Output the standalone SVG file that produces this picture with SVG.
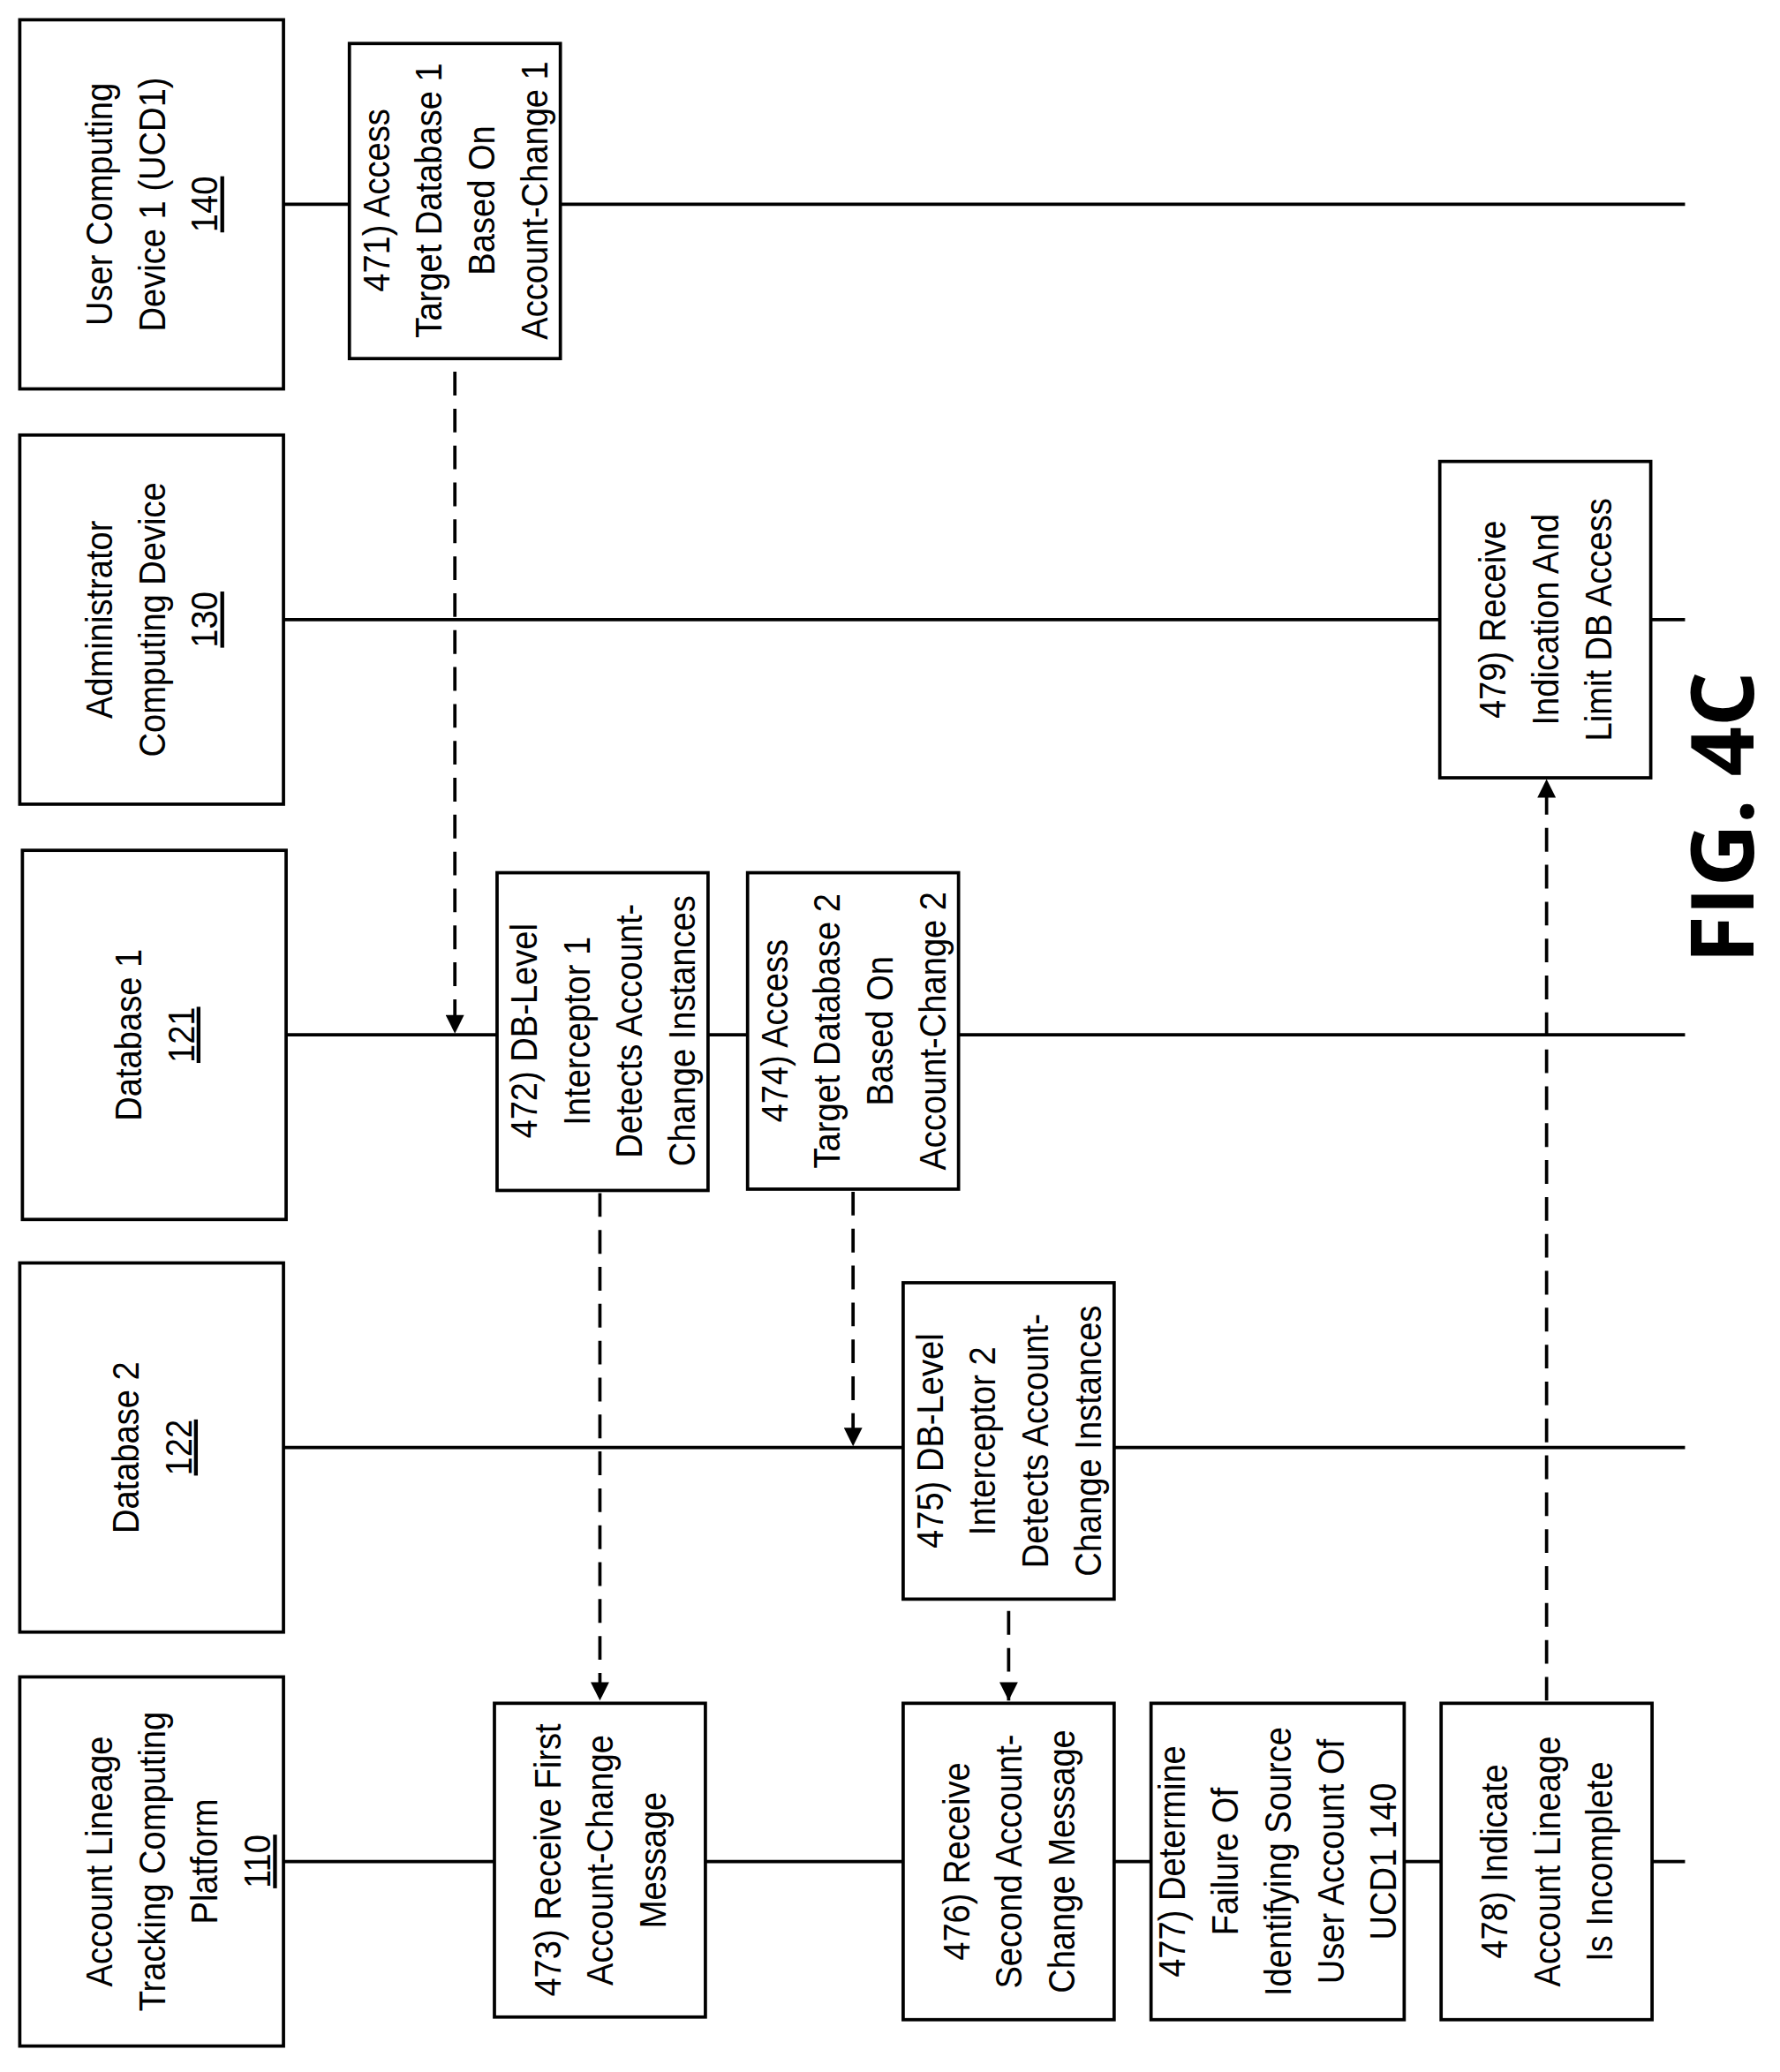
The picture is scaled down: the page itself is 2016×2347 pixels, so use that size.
<svg xmlns="http://www.w3.org/2000/svg" width="2016" height="2347" viewBox="0 0 2016 2347">
<style>
.b{fill:#fff;stroke:#000;stroke-width:2.5}
.l{stroke:#000;stroke-width:2.5;fill:none}
.d{stroke:#000;stroke-width:2.5;fill:none;stroke-dasharray:18 10}
text{font-family:"Liberation Sans",Arial,sans-serif;font-size:29px;text-anchor:middle;fill:#000}
.c{transform:scale(1,0.88)}
.u{text-decoration:underline}
</style>
<defs>
<marker id="ah" viewBox="0 0 10 10" refX="10" refY="5" markerWidth="18" markerHeight="14" markerUnits="userSpaceOnUse" orient="auto"><path d="M0,0 L10,5 L0,10 z"/></marker></defs>
<rect width="2016" height="2347" fill="#fff"/>
<g transform="scale(1.4933)">
<g id="lifelines">
<line class="l" x1="215" y1="155" x2="1278" y2="155"/>
<line class="l" x1="215" y1="470" x2="1278" y2="470"/>
<line class="l" x1="217" y1="785" x2="1278" y2="785"/>
<line class="l" x1="215" y1="1098" x2="1278" y2="1098"/>
<line class="l" x1="215" y1="1412" x2="1278" y2="1412"/>
</g>
<g id="ucd1"><rect class="b" x="15" y="15" width="200" height="280"/><g transform="translate(115,155) rotate(-90) scale(0.88,1)"><text y="-30">User Computing</text><text y="10">Device 1 (UCD1)</text><text y="50" class="u">140</text></g></g>
<g id="admin"><rect class="b" x="15" y="330" width="200" height="280"/><g transform="translate(115,470) rotate(-90) scale(0.88,1)"><text y="-30">Administrator</text><text y="10">Computing Device</text><text y="50" class="u">130</text></g></g>
<g id="db1"><rect class="b" x="17" y="645" width="200" height="280"/><g transform="translate(117,785) rotate(-90) scale(0.88,1)"><text y="-10">Database 1</text><text y="30" class="u">121</text></g></g>
<g id="db2"><rect class="b" x="15" y="958" width="200" height="280"/><g transform="translate(115,1098) rotate(-90) scale(0.88,1)"><text y="-10">Database 2</text><text y="30" class="u">122</text></g></g>
<g id="altcp"><rect class="b" x="15" y="1272" width="200" height="280"/><g transform="translate(115,1412) rotate(-90) scale(0.88,1)"><text y="-30">Account Lineage</text><text y="10">Tracking Computing</text><text y="50">Platform</text><text y="90" class="u">110</text></g></g>
<g id="s471"><rect class="b" x="265" y="33" width="160" height="239"/><g transform="translate(345,152) rotate(-90) scale(0.88,1)"><text y="-50">471) Access</text><text y="-10">Target Database 1</text><text y="30">Based On</text><text y="70">Account-Change 1</text></g></g>
<g id="s479"><rect class="b" x="1092" y="350" width="160" height="240"/><g transform="translate(1172,470) rotate(-90) scale(0.88,1)"><text y="-30">479) Receive</text><text y="10">Indication And</text><text y="50">Limit DB Access</text></g></g>
<g id="s472"><rect class="b" x="377" y="662" width="160" height="241"/><g transform="translate(457,782) rotate(-90) scale(0.88,1)"><text y="-50">472) DB-Level</text><text y="-10">Interceptor 1</text><text y="30">Detects Account-</text><text y="70">Change Instances</text></g></g>
<g id="s474"><rect class="b" x="567" y="662" width="160" height="240"/><g transform="translate(647,782) rotate(-90) scale(0.88,1)"><text y="-50">474) Access</text><text y="-10">Target Database 2</text><text y="30">Based On</text><text y="70">Account-Change 2</text></g></g>
<g id="s475"><rect class="b" x="685" y="973" width="160" height="240"/><g transform="translate(765,1093) rotate(-90) scale(0.88,1)"><text y="-50">475) DB-Level</text><text y="-10">Interceptor 2</text><text y="30">Detects Account-</text><text y="70">Change Instances</text></g></g>
<g id="s473"><rect class="b" x="375" y="1292" width="160" height="238"/><g transform="translate(455,1411) rotate(-90) scale(0.88,1)"><text y="-30">473) Receive First</text><text y="10">Account-Change</text><text y="50">Message</text></g></g>
<g id="s476"><rect class="b" x="685" y="1292" width="160" height="240"/><g transform="translate(765,1412) rotate(-90) scale(0.88,1)"><text y="-30">476) Receive</text><text y="10">Second Account-</text><text y="50">Change Message</text></g></g>
<g id="s477"><rect class="b" x="873" y="1292" width="192" height="240"/><g transform="translate(969,1412) rotate(-90) scale(0.88,1)"><text y="-70">477) Determine</text><text y="-30">Failure Of</text><text y="10">Identifying Source</text><text y="50">User Account Of</text><text y="90">UCD1 140</text></g></g>
<g id="s478"><rect class="b" x="1093" y="1292" width="160" height="240"/><g transform="translate(1173,1412) rotate(-90) scale(0.88,1)"><text y="-30">478) Indicate</text><text y="10">Account Lineage</text><text y="50">Is Incomplete</text></g></g>
<g id="connectors">
<line class="d" x1="345" y1="282" x2="345" y2="784" marker-end="url(#ah)"/>
<line class="d" x1="455" y1="905" x2="455" y2="1290" marker-end="url(#ah)"/>
<line class="d" x1="647" y1="904" x2="647" y2="1097" marker-end="url(#ah)"/>
<line class="d" x1="765" y1="1222" x2="765" y2="1290" marker-end="url(#ah)"/>
<line class="d" x1="1173" y1="1290" x2="1173" y2="591" marker-end="url(#ah)"/>
</g>
<text transform="translate(1330,620) rotate(-90)" style="font-family:'Open Sans','Noto Sans',sans-serif;font-weight:bold;font-size:66px">FIG. 4C</text>
</g>
</svg>
